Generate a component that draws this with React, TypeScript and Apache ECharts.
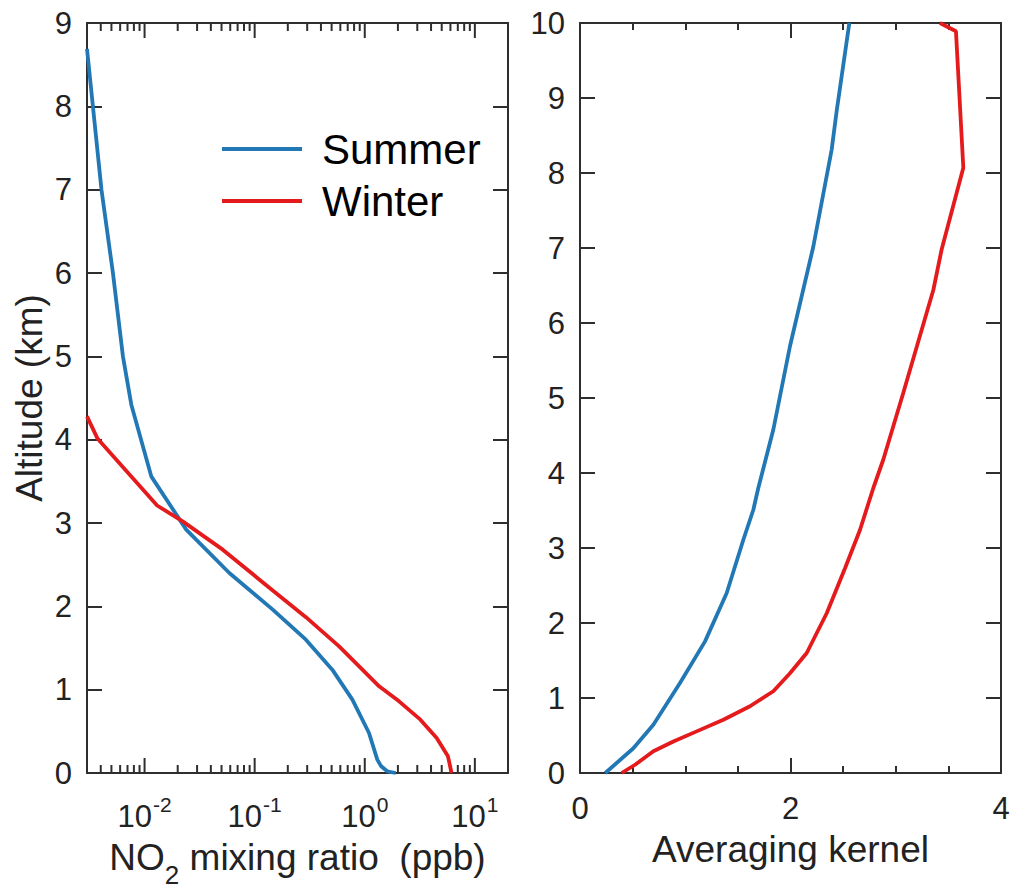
import { useEffect, useRef } from 'react';
import * as echarts from 'echarts';

// ---------- data ----------
// Left panel: NO2 mixing ratio (ppb) vs altitude (km)
const summerNO2: [number, number][] = [
  [0.003, 8.69], [0.00406, 7.0], [0.00516, 6.0], [0.00636, 5.0], [0.00758, 4.42],
  [0.0115, 3.56], [0.0239, 2.92], [0.0589, 2.4], [0.146, 1.96], [0.292, 1.6],
  [0.507, 1.24], [0.772, 0.88], [1.093, 0.48], [1.3, 0.16], [1.41, 0.08],
  [1.6, 0.02], [1.91, 0],
];
const winterNO2: [number, number][] = [
  [0.003, 4.28], [0.00375, 4.01], [0.013, 3.21], [0.0222, 3.02], [0.0513, 2.68],
  [0.146, 2.19], [0.292, 1.87], [0.585, 1.52], [1.35, 1.04], [2.05, 0.86],
  [3.2, 0.64], [4.5, 0.42], [5.7, 0.2], [6.14, 0],
];
// Right panel: averaging kernel vs altitude (km)
const summerAK: [number, number][] = [
  [0.24, 0], [0.507, 0.33], [0.697, 0.644], [0.95, 1.2], [1.188, 1.755],
  [1.394, 2.4], [1.552, 3.11], [1.647, 3.51], [1.694, 3.8], [1.837, 4.58],
  [1.995, 5.69], [2.217, 7.02], [2.391, 8.31], [2.44, 8.84], [2.559, 10],
];
const winterAK: [number, number][] = [
  [0.396, 0], [0.523, 0.11], [0.697, 0.29], [0.887, 0.42], [1.108, 0.555],
  [1.362, 0.71], [1.615, 0.89], [1.837, 1.09], [1.995, 1.33], [2.154, 1.6],
  [2.344, 2.13], [2.518, 2.73], [2.66, 3.24], [2.787, 3.8], [2.882, 4.18],
  [3.072, 5.07], [3.357, 6.44], [3.436, 6.98], [3.642, 8.07], [3.572, 9.89],
  [3.42, 10.0],
];

const seriesNames = ['Summer', 'Winter'];
const logDecades = [0.001, 0.01, 0.1, 1, 10];
const logMinorMultipliers = [2, 3, 4, 5, 6, 7, 8, 9];
const logMin = 0.003;
const logMax = 20;
const leftAltMax = 9;
const rightAltMax = 10;
const akMin = 0;
const akMax = 4;

// ---------- styles ----------
const FONT = '"Liberation Sans", Arial, Helvetica, sans-serif';
const AXIS_COLOR = '#2e2e2e';
const TEXT_COLOR = '#222222';
const BLUE = '#2178b5';
const RED = '#e41a1c';
const LINE_W = 3.8;

const logTickData: [number, number][] = [];
logDecades.forEach((d) => {
  if (d > logMin && d < logMax) logTickData.push([d, 1]);
  logMinorMultipliers.forEach((m) => {
    const v = d * m;
    if (v > logMin * 1.0001 && v < logMax * 0.9999) logTickData.push([v, 0]);
  });
});

export default function App() {
  const ref = useRef<HTMLDivElement>(null);

  useEffect(() => {
    if (!ref.current) return;
    const chart = echarts.init(ref.current, undefined, { renderer: 'svg' });

    const axisLine = { show: true, onZero: false, lineStyle: { color: AXIS_COLOR, width: 2 } };
    const tickLine = { color: AXIS_COLOR, width: 2 };

    const option: any = {
      animation: false,
      backgroundColor: '#ffffff',
      textStyle: { fontFamily: FONT },
      legend: {
        show: true,
        data: seriesNames,
        orient: 'vertical',
        left: 222,
        top: 128,
        padding: 0,
        itemWidth: 80,
        itemHeight: 4,
        itemGap: 10,
        icon: 'rect',
        selectedMode: false,
        textStyle: { fontSize: 42, lineHeight: 41, color: '#000', fontFamily: FONT, padding: [0, 0, 0, 15] },
      },
      grid: [
        { left: 87, top: 23, width: 421, height: 750, outerBoundsMode: 'none', containLabel: false },
        { left: 580, top: 23, width: 421, height: 750, outerBoundsMode: 'none', containLabel: false },
      ],
      xAxis: [
        {
          gridIndex: 0, type: 'log', logBase: 10, min: logMin, max: logMax, position: 'bottom',
          axisLine, axisTick: { show: false }, splitLine: { show: false },
          axisLabel: {
            margin: 28,
            showMinLabel: false,
            showMaxLabel: false,
            formatter: (v: number) => {
              const lg = Math.log10(v);
              const e = Math.round(lg);
              if (Math.abs(lg - e) > 1e-6) return '';
              return `{b|10}{s|${e}}`;
            },
            rich: {
              b: { fontSize: 31, lineHeight: 30, color: TEXT_COLOR, fontFamily: FONT },
              s: { fontSize: 21, lineHeight: 30, color: TEXT_COLOR, fontFamily: FONT, padding: [0, 0, 24, 1] },
            },
          },
          name: '{n|NO}{sub|2}{n| mixing ratio  (ppb)}',
          nameLocation: 'middle',
          nameGap: 66,
          nameMoveOverlap: false,
          nameTextStyle: {
            rich: {
              n: { fontSize: 37, lineHeight: 36, color: TEXT_COLOR, fontFamily: FONT },
              sub: { fontSize: 26, lineHeight: 36, color: TEXT_COLOR, fontFamily: FONT, padding: [36, 0, 0, 0] },
            },
          },
        },
        {
          gridIndex: 0, type: 'log', logBase: 10, min: logMin, max: logMax, position: 'top',
          axisLine, axisTick: { show: false }, axisLabel: { show: false }, splitLine: { show: false },
        },
        {
          gridIndex: 1, type: 'value', min: akMin, max: akMax, interval: 2, position: 'bottom',
          axisLine,
          axisTick: { show: true, inside: true, length: 15, lineStyle: tickLine },
          minorTick: { show: true, splitNumber: 4, length: 7, lineStyle: tickLine },
          splitLine: { show: false },
          axisLabel: { fontSize: 31, color: TEXT_COLOR, margin: 20, fontFamily: FONT },
          name: 'Averaging kernel',
          nameLocation: 'middle',
          nameGap: 58,
          nameMoveOverlap: false,
          nameTextStyle: { fontSize: 37, color: TEXT_COLOR, fontFamily: FONT },
        },
        {
          gridIndex: 1, type: 'value', min: akMin, max: akMax, interval: 2, position: 'top',
          axisLine,
          axisTick: { show: true, inside: true, length: 15, lineStyle: tickLine },
          minorTick: { show: true, splitNumber: 4, length: 7, lineStyle: tickLine },
          splitLine: { show: false },
          axisLabel: { show: false },
        },
      ],
      yAxis: [
        {
          gridIndex: 0, type: 'value', min: 0, max: leftAltMax, interval: 1, position: 'left',
          axisLine,
          axisTick: { show: true, inside: true, length: 15, lineStyle: tickLine },
          splitLine: { show: false },
          axisLabel: { fontSize: 31, color: TEXT_COLOR, margin: 15, fontFamily: FONT },
          name: 'Altitude (km)',
          nameLocation: 'middle',
          nameRotate: 90,
          nameGap: 39,
          nameMoveOverlap: false,
          nameTextStyle: { fontSize: 37, color: TEXT_COLOR, fontFamily: FONT },
        },
        {
          gridIndex: 0, type: 'value', min: 0, max: leftAltMax, interval: 1, position: 'right',
          axisLine,
          axisTick: { show: true, inside: true, length: 15, lineStyle: tickLine },
          splitLine: { show: false },
          axisLabel: { show: false },
        },
        {
          gridIndex: 1, type: 'value', min: 0, max: rightAltMax, interval: 1, position: 'left',
          axisLine,
          axisTick: { show: true, inside: true, length: 15, lineStyle: tickLine },
          splitLine: { show: false },
          axisLabel: { fontSize: 31, color: TEXT_COLOR, margin: 15, fontFamily: FONT },
        },
        {
          gridIndex: 1, type: 'value', min: 0, max: rightAltMax, interval: 1, position: 'right',
          axisLine,
          axisTick: { show: true, inside: true, length: 15, lineStyle: tickLine },
          splitLine: { show: false },
          axisLabel: { show: false },
        },
      ],
      series: [
        {
          type: 'custom', xAxisIndex: 0, yAxisIndex: 0, silent: true, z: 1,
          data: logTickData,
          renderItem: (_params: any, api: any) => {
            const v = api.value(0);
            const major = api.value(1) === 1;
            const len = major ? 15 : 8;
            const b = api.coord([v, 0]);
            const t = api.coord([v, leftAltMax]);
            return {
              type: 'group',
              children: [
                { type: 'line', shape: { x1: b[0], y1: b[1], x2: b[0], y2: b[1] - len }, style: { stroke: AXIS_COLOR, lineWidth: 2 } },
                { type: 'line', shape: { x1: t[0], y1: t[1], x2: t[0], y2: t[1] + len }, style: { stroke: AXIS_COLOR, lineWidth: 2 } },
              ],
            };
          },
        },
        {
          name: seriesNames[0], type: 'line', xAxisIndex: 0, yAxisIndex: 0, data: summerNO2,
          showSymbol: false, symbol: 'none', clip: false, color: BLUE, z: 3,
          lineStyle: { color: BLUE, width: LINE_W },
        },
        {
          name: seriesNames[1], type: 'line', xAxisIndex: 0, yAxisIndex: 0, data: winterNO2,
          showSymbol: false, symbol: 'none', clip: false, color: RED, z: 3,
          lineStyle: { color: RED, width: LINE_W },
        },
        {
          name: seriesNames[0], type: 'line', xAxisIndex: 2, yAxisIndex: 2, data: summerAK,
          showSymbol: false, symbol: 'none', clip: false, color: BLUE, z: 3,
          lineStyle: { color: BLUE, width: LINE_W },
        },
        {
          name: seriesNames[1], type: 'line', xAxisIndex: 2, yAxisIndex: 2, data: winterAK,
          showSymbol: false, symbol: 'none', clip: false, color: RED, z: 3,
          lineStyle: { color: RED, width: LINE_W },
        },
      ],
    };

    chart.setOption(option);
    return () => chart.dispose();
  }, []);

  return (
    <div
      ref={ref}
      style={{ position: 'fixed', left: 0, top: 0, width: 1012, height: 892, background: '#fff' }}
    />
  );
}
